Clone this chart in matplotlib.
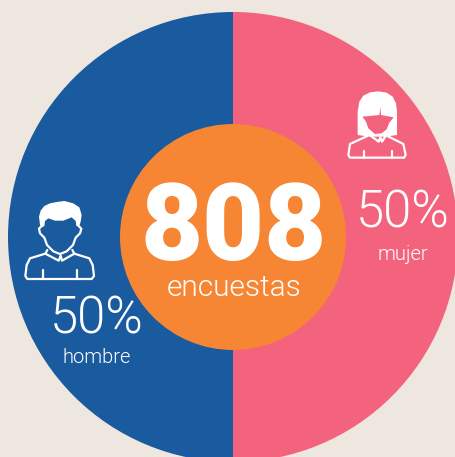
import matplotlib
matplotlib.use("Agg")
import matplotlib.pyplot as plt
from matplotlib.patches import Circle, Polygon

# data
labels = ["mujer", "hombre"]
shares = [50, 50]
total = 808
total_label = "encuestas"

BG = "#EEE7DF"
BLUE = "#1A5A9E"
PINK = "#F3637D"
ORANGE = "#F68633"
FONT = ["Roboto", "DejaVu Sans"]

W, H = 456, 457
fig = plt.figure(figsize=(W / 100, H / 100), dpi=100, facecolor=BG)
ax = fig.add_axes([0, 0, 1, 1])

ax.pie(shares, colors=[PINK, BLUE], startangle=90, counterclock=False,
       center=(233, 237), radius=225, frame=True)
ax.add_patch(Circle((233, 237), 113, facecolor=ORANGE, edgecolor="none", zorder=3))

ax.set_xlim(0, W)
ax.set_ylim(H, 0)
ax.set_aspect("equal")
ax.axis("off")


def conv(pts, ox, oy):
    return [(ox + x / 3, oy + y / 3) for x, y in pts]


def stroke(pts, ox, oy, lw=1.6):
    p = conv(pts, ox, oy)
    ax.plot([a for a, b in p], [b for a, b in p], color="white", lw=lw,
            solid_capstyle="round", solid_joinstyle="round", zorder=4)


def fill(pts, ox, oy, color="white"):
    ax.add_patch(Polygon(conv(pts, ox, oy), closed=True, facecolor=color,
                         edgecolor="none", zorder=4))


# man
ox, oy = 10, 190
fill([(90, 105), (87, 80), (92, 62), (103, 48), (120, 40), (140, 36), (163, 33), (190, 40), (208, 52),
      (215, 75), (212, 95), (208, 108), (199, 108), (197, 93), (185, 82), (160, 92), (135, 92), (115, 85),
      (105, 93), (103, 108), (95, 112)], ox, oy)
stroke([(97, 106), (87, 116), (90, 130), (103, 143), (111, 165), (130, 184), (150, 192), (170, 184), (189, 165),
        (197, 143), (210, 130), (214, 116), (204, 106)], ox, oy)
stroke([(112, 180), (106, 191), (60, 205), (50, 225), (46, 258), (52, 267), (245, 267), (252, 258), (248, 225),
        (238, 205), (193, 191), (187, 180)], ox, oy)
stroke([(106, 191), (146, 212), (152, 197), (156, 212), (193, 191)], ox, oy)
stroke([(99, 240), (99, 267)], ox, oy)
stroke([(201, 240), (201, 267)], ox, oy)

# woman
ox, oy = 330, 80
fill([(83, 165), (83, 95), (88, 65), (100, 47), (120, 37), (145, 34), (170, 38), (188, 50), (198, 70), (201, 95),
      (201, 165), (165, 170), (118, 170)], ox, oy)
fill([(97, 110), (148, 105), (151, 82), (153, 105), (191, 112), (178, 128), (170, 148), (155, 160), (135, 162),
      (115, 145), (108, 125)], ox, oy, color=PINK)
stroke([(112, 168), (60, 192), (55, 225), (60, 233), (222, 233), (227, 225), (220, 192), (172, 168)], ox, oy)
stroke([(112, 160), (146, 185), (151, 172), (156, 185), (172, 160)], ox, oy)
stroke([(101, 212), (101, 233)], ox, oy)
stroke([(185, 212), (185, 233)], ox, oy)

# text
ax.text(233.5, 260, str(total), color="white", fontsize=77, fontweight=900, family=FONT,
        ha="center", va="baseline", zorder=5)
ax.text(234, 296, total_label, color="white", fontsize=21.5, fontweight=300, family=FONT,
        ha="center", va="baseline", zorder=5)

ax.text(96.5, 334, f"{shares[1]}%", color="white", fontsize=36.5, fontweight=300, family=FONT,
        ha="center", va="baseline", zorder=5)
ax.text(96.5, 363, labels[1], color="white", fontsize=14.5, fontweight=300, family=FONT,
        ha="center", va="baseline", zorder=5)
ax.text(403, 227, f"{shares[0]}%", color="white", fontsize=36.5, fontweight=300, family=FONT,
        ha="center", va="baseline", zorder=5)
ax.text(402.5, 260, labels[0], color="white", fontsize=14.5, fontweight=300, family=FONT,
        ha="center", va="baseline", zorder=5)

fig.savefig("out.png", dpi=100, facecolor=BG)
